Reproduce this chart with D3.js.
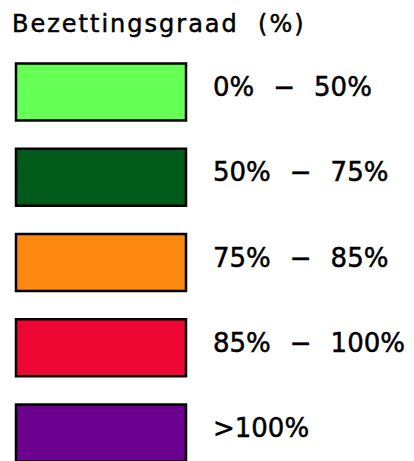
<!DOCTYPE html>
<html>
<head>
<meta charset="utf-8">
<script src="https://cdn.jsdelivr.net/npm/d3@7"></script>
<style>
  body { margin: 0; background: #fff; }
  text { font-family: "DejaVu Sans", sans-serif; fill: #000; stroke: #000; stroke-width: 0.5; white-space: pre; }
</style>
</head>
<body>
<svg id="legend"></svg>
<script>
// Legend data
const title = "Bezettingsgraad  (%)";
const lowLabels = ["0%", "50%", "75%", "85%", ">100%"];
const highLabels = ["50%", "75%", "85%", "100%", ""];
const colors = ["#66ff55", "#005a1a", "#ff8811", "#ee0733", "#6c008f"];

const svgWidth = 414;
const svgHeight = 461;

const svg = d3.select("#legend")
    .attr("width", svgWidth)
    .attr("height", svgHeight);

const classes = d3.range(lowLabels.length);

// vertical position for each class
const y = d3.scaleBand()
    .domain(classes)
    .range([63, 462])
    .paddingInner(0.32)
    .paddingOuter(0);

svg.append("text")
    .attr("x", 12)
    .attr("y", 32)
    .attr("font-size", 24)
    .attr("letter-spacing", 2)
    .attr("stroke-width", 0.8)
    .text(title);

const row = svg.selectAll(".row")
    .data(classes)
    .enter()
    .append("g")
    .attr("class", "row")
    .attr("transform", d => `translate(0,${y(d)})`);

row.append("rect")
    .attr("x", 16)
    .attr("y", 0.5)
    .attr("width", 170)
    .attr("height", y.bandwidth() - 1)
    .attr("fill", d => colors[d])
    .attr("stroke", "#000")
    .attr("stroke-width", 2.5);

const label = row.append("text")
    .attr("x", 213)
    .attr("y", 33)
    .attr("font-size", 26);

label.append("tspan").text(d => lowLabels[d]);
label.filter(d => highLabels[d] !== "")
    .append("tspan").attr("dx", 19).text("−");
label.filter(d => highLabels[d] !== "")
    .append("tspan").attr("dx", 19).text(d => highLabels[d]);
</script>
</body>
</html>
